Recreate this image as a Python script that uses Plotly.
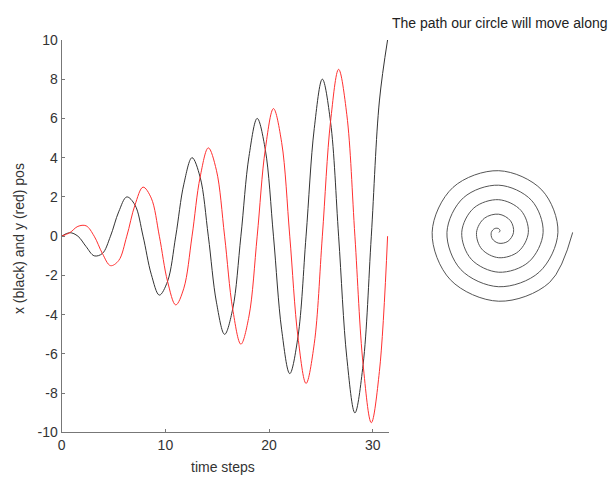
import plotly.graph_objects as go

# time steps (read at eighth-period spacing)
time_steps = [0, 0.79, 1.57, 2.36, 3.14, 3.93, 4.71, 5.50, 6.28, 7.07, 7.85, 8.64, 9.42,
              10.21, 11.00, 11.78, 12.57, 13.35, 14.14, 14.92, 15.71, 16.49, 17.28, 18.06,
              18.85, 19.63, 20.42, 21.21, 21.99, 22.78, 23.56, 24.35, 25.13, 25.92, 26.70,
              27.49, 28.27, 29.06, 29.85, 30.63, 31.42]
# x position (black)
x_pos = [0, 0.18, 0, -0.53, -1, -0.88, 0, 1.24, 2, 1.59, 0, -1.94, -3, -2.30, 0, 2.65,
         4, 3.01, 0, -3.36, -5, -3.71, 0, 4.07, 6, 4.42, 0, -4.77, -7, -5.13, 0, 5.48,
         8, 5.83, 0, -6.19, -9, -6.54, 0, 6.89, 10]
# y position (red)
y_pos = [0, 0.18, 0.5, 0.53, 0, -0.88, -1.5, -1.24, 0, 1.59, 2.5, 1.94, 0, -2.30, -3.5,
         -2.65, 0, 3.01, 4.5, 3.36, 0, -3.71, -5.5, -4.07, 0, 4.42, 6.5, 4.77, 0, -5.13,
         -7.5, -5.48, 0, 5.83, 8.5, 6.19, 0, -6.54, -9.5, -6.89, 0]

x_ticks = [0, 10, 20, 30]
y_ticks = [10, 8, 6, 4, 2, 0, -2, -4, -6, -8, -10]
y_tick_labels = ["10", "8", "6", "4", "2", "0", "-2", "-4", "-6", "-8", "-10"]

W, H = 611, 484

fig = go.Figure()
fig.add_trace(go.Scatter(x=time_steps, y=x_pos, mode="lines",
                         line=dict(color="#333333", width=1, shape="spline", smoothing=1.0),
                         xaxis="x", yaxis="y", showlegend=False))
fig.add_trace(go.Scatter(x=time_steps, y=y_pos, mode="lines",
                         line=dict(color="#ff3030", width=1, shape="spline", smoothing=1.0),
                         xaxis="x", yaxis="y", showlegend=False))
fig.add_trace(go.Scatter(x=x_pos, y=y_pos, mode="lines",
                         line=dict(color="#555555", width=1, shape="spline", smoothing=1.0),
                         xaxis="x2", yaxis="y2", showlegend=False))

axis_font = dict(family="Liberation Sans, Arial, sans-serif", size=14, color="#333333")

fig.update_layout(
    width=W, height=H,
    margin=dict(l=0, r=0, t=0, b=0),
    paper_bgcolor="white", plot_bgcolor="white",
    xaxis=dict(domain=[58 / W, 388 / W], range=[0, 31.6], tickvals=x_ticks,
               showgrid=False, zeroline=False, showline=True, linecolor="#777777",
               linewidth=1.2, ticks="inside", ticklen=3, tickcolor="#777777",
               tickfont=axis_font, anchor="y"),
    yaxis=dict(domain=[1 - 439 / H, 1 - 33 / H], range=[-10, 10], tickvals=y_ticks,
               ticktext=y_tick_labels,
               showgrid=False, zeroline=False, showline=True, linecolor="#777777",
               linewidth=1.2, ticks="inside", ticklen=3, tickcolor="#777777",
               tickfont=axis_font, anchor="x"),
    xaxis2=dict(domain=[423 / W, 573 / W], range=[-10.07, 10.07], visible=False,
                anchor="y2"),
    yaxis2=dict(domain=[1 - 307 / H, 1 - 157 / H], range=[-10, 10], visible=False,
                anchor="x2"),
    annotations=[
        dict(text="The path our circle will move along", x=499 / W, y=1 - 15 / H,
             xref="paper", yref="paper", showarrow=False, xanchor="center",
             yanchor="middle", font=dict(family="Liberation Sans, Arial, sans-serif",
                                         size=14, color="#222222")),
        dict(text="time steps", x=220 / W, y=1 - 475 / H, xref="paper", yref="paper",
             showarrow=False, xanchor="center", yanchor="middle", font=axis_font),
        dict(text="x (black) and y (red) pos", x=15 / W, y=1 - 238 / H, xref="paper",
             yref="paper", showarrow=False, xanchor="center", yanchor="middle",
             textangle=-90, font=axis_font),
    ],
)

fig.write_html("out.html")
